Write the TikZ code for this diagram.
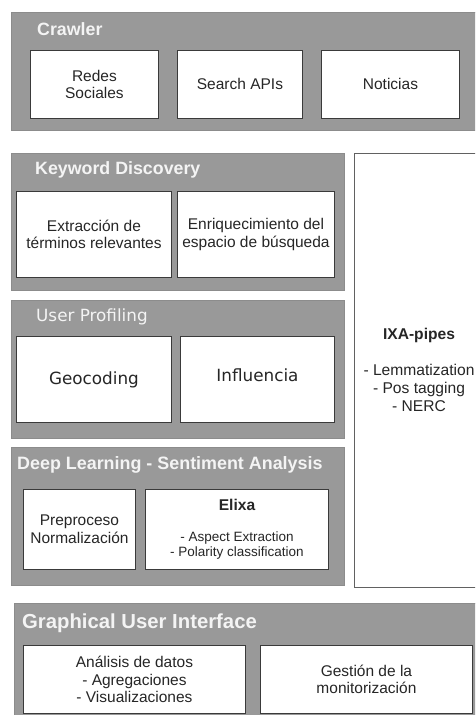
\documentclass[tikz,border=0pt]{standalone}
\usepackage{fontspec}
\setmainfont{Liberation Sans}
\newfontfamily\dejavu{DejaVu Sans}
\definecolor{panelfill}{HTML}{999999}
\definecolor{paneledge}{HTML}{8C8C8C}
\definecolor{titlecol}{HTML}{F4F4F4}
\definecolor{boxedge}{HTML}{3A3A3A}
\begin{document}
\begin{tikzpicture}[x=1pt,y=-1pt,
  panel/.style={draw=paneledge, fill=panelfill, line width=0.8pt, anchor=north west, inner sep=0pt},
  ixapanel/.style={draw=boxedge!80, fill=white, line width=0.8pt, anchor=north west, inner sep=0pt},
  ptitle/.style={anchor=west, inner sep=0pt, text=titlecol, font=\fontsize{17.8}{20}\selectfont\bfseries},
  ptitlereg/.style={anchor=west, inner sep=0pt, text=titlecol, font=\dejavu\fontsize{16.8}{20}\selectfont},
  wbox/.style={draw=boxedge, fill=white, line width=0.9pt, anchor=north west, inner sep=0pt, align=center, text=black!85, font=\fontsize{15.5}{17.5}\selectfont},
  plain/.style={inner sep=0pt, align=center, text=black!85}
]
\useasboundingbox (0,0) rectangle (475,715);
\clip (0,0) rectangle (475,715);

% Crawler
\node[panel, minimum width=480pt, minimum height=118pt] (crawler) at (11,12) {};
\node[ptitle] (crawlert) at (37,29) {Crawler};
\node[wbox, minimum width=128pt, minimum height=68pt] (redes) at (30,50) {Redes\\Sociales};
\node[wbox, minimum width=125pt, minimum height=68pt] (search) at (177,50) {Search APIs};
\node[wbox, minimum width=138pt, minimum height=68pt] (noticias) at (321,50) {Noticias};

% IXA
\node[ixapanel, minimum width=140pt, minimum height=434pt] (ixa) at (354,153) {};
\node[plain, font=\fontsize{15.6}{18}\selectfont\bfseries] (ixat) at (419,335) {IXA-pipes};
\node[plain, font=\fontsize{15.6}{18}\selectfont] (ixal) at (419,388) {- Lemmatization\\- Pos tagging\\- NERC};

% Keyword Discovery
\node[panel, minimum width=333pt, minimum height=137pt] (kd) at (11,153) {};
\node[ptitle] (kdt) at (35,170) {Keyword Discovery};
\node[wbox, minimum width=155pt, minimum height=86pt] (extr) at (16,191) {Extracción de\\términos relevantes};
\node[wbox, minimum width=157pt, minimum height=86pt] (enriq) at (177,191) {Enriquecimiento del\\espacio de búsqueda};

% User Profiling
\node[panel, minimum width=333pt, minimum height=138pt] (up) at (11,300) {};
\node[ptitlereg] (upt) at (36,317) {User Profiling};
\node[wbox, minimum width=155pt, minimum height=86pt, font=\dejavu\fontsize{16.8}{20}\selectfont] (geo) at (16,336) {Geocoding};
\node[wbox, minimum width=154pt, minimum height=86pt, font=\dejavu\fontsize{16.8}{20}\selectfont, text depth=8pt] (infl) at (180,336) {Influencia};

% Deep Learning
\node[panel, minimum width=333pt, minimum height=138pt] (dl) at (11,447) {};
\node[ptitle, font=\fontsize{17.9}{20}\selectfont\bfseries] (dlt) at (17,465) {Deep Learning - Sentiment Analysis};
\node[wbox, minimum width=112pt, minimum height=80pt] (prep) at (23,489) {Preproceso\\Normalización};
\node[wbox, minimum width=183pt, minimum height=80pt] (elixa) at (145,489) {};
\node[plain, font=\fontsize{15.6}{18}\selectfont\bfseries] (elixat) at (237,505) {Elixa};
\node[plain, font=\fontsize{13.5}{15}\selectfont] (elixal) at (237,546) {- Aspect Extraction\\- Polarity classification};

% GUI
\node[panel, minimum width=480pt, minimum height=125pt] (gui) at (14,603) {};
\node[ptitle, font=\fontsize{20.3}{22}\selectfont\bfseries] (guit) at (22,623) {Graphical User Interface};
\node[wbox, minimum width=222pt, minimum height=68pt] (anal) at (23,645) {Análisis de datos\\- Agregaciones\\- Visualizaciones};
\node[wbox, minimum width=212pt, minimum height=68pt] (gest) at (260,645) {Gestión de la\\monitorización};
\end{tikzpicture}
\end{document}
